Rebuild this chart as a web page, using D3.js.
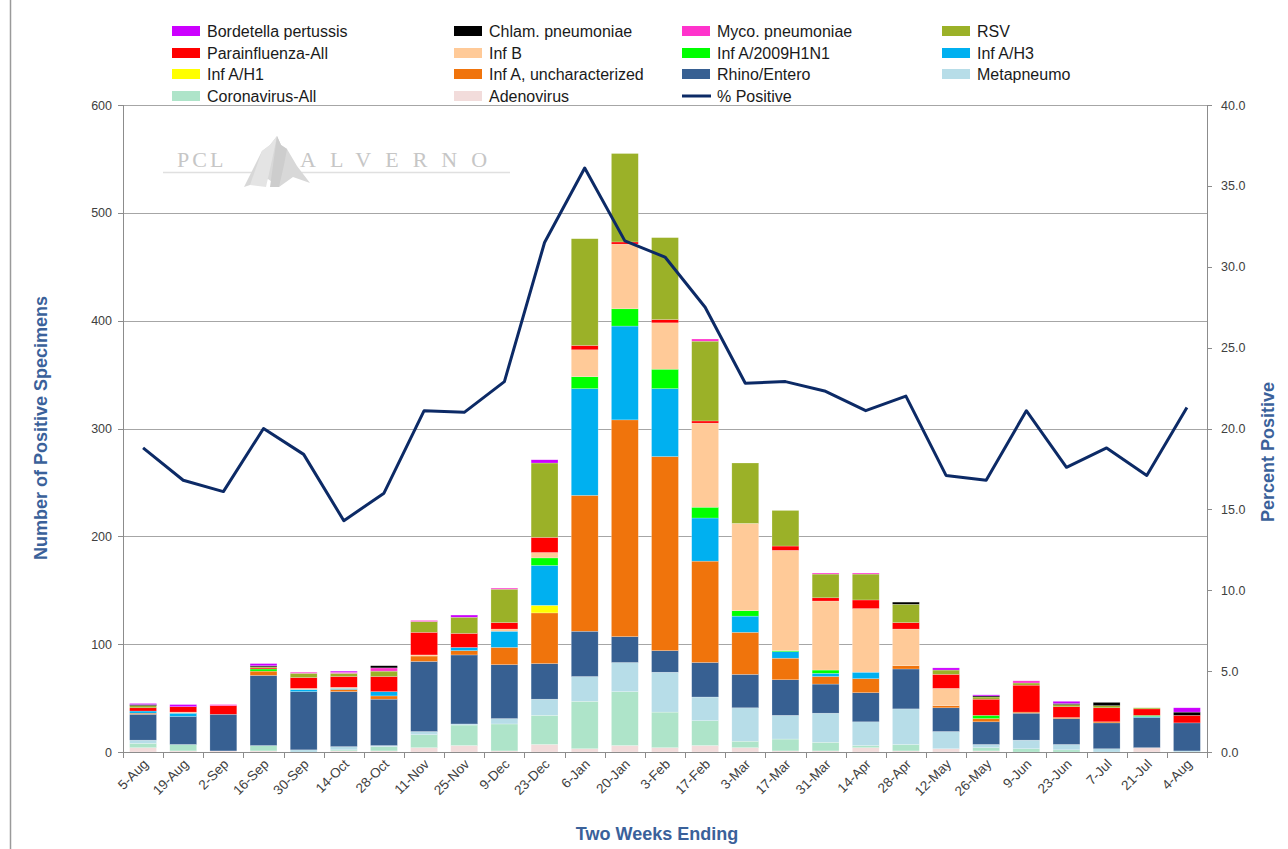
<!DOCTYPE html>
<html><head><meta charset="utf-8">
<script src="https://cdn.jsdelivr.net/npm/d3@7"></script>
<style>body{margin:0;background:#fff}</style>
</head><body><svg id="c" width="1288" height="849"></svg>
<script>
const categories = ["5-Aug","19-Aug","2-Sep","16-Sep","30-Sep","14-Oct","28-Oct","11-Nov","25-Nov","9-Dec","23-Dec","6-Jan","20-Jan","3-Feb","17-Feb","3-Mar","17-Mar","31-Mar","14-Apr","28-Apr","12-May","26-May","9-Jun","23-Jun","7-Jul","21-Jul","4-Aug"];
const adenovirus   = [4,1,1,1,0,1,1,4,6,1,7,3,6,4,6,4,1,1,4,1,3,1,0,0,0,4,0];
const coronavirus  = [4,6,0,5,0,1,4,12,19,25,27,44,50,33,23,6,11,8,2,6,0,3,3,2,0,0,0];
const metapneumo   = [3,0,0,0,2,3,1,3,1,5,15,23,27,37,22,31,22,27,22,33,16,3,8,5,3,0,1];
const rhinoEntero  = [24,26,34,65,54,51,43,65,64,50,33,42,24,20,32,31,33,27,27,37,22,21,25,24,24,28,26];
const infAUnchar   = [1,0,0,4,0,2,3,5,4,16,47,126,201,180,94,39,20,7,13,3,2,3,1,1,1,0,0];
const infAH1       = [0,0,0,0,0,0,0,0,0,0,7,0,0,0,0,0,0,0,0,0,0,0,0,0,0,0,0];
const infAH3       = [2,3,0,0,2,1,4,0,3,15,37,99,87,63,40,15,6,3,6,0,0,0,0,0,0,1,0];
const infA2009     = [0,0,0,2,0,0,0,0,0,0,7,11,16,18,10,5,1,3,0,0,0,3,0,0,0,1,0];
const infB         = [0,1,0,0,1,1,0,1,0,2,5,25,60,43,78,81,93,64,59,34,16,0,0,0,0,0,0];
const parainfluenza= [3,5,8,1,10,10,14,21,13,6,14,4,2,3,2,0,4,3,8,6,13,15,25,10,13,6,7];
const rsv          = [2,0,0,1,4,3,5,10,15,31,69,99,82,76,74,56,33,22,24,17,4,2,2,2,2,1,0];
const mycoPneum    = [0,0,1,0,1,1,3,1,0,1,0,0,0,0,2,0,0,1,1,0,0,0,2,0,0,0,0];
const chlamPneum   = [1,0,0,1,0,0,2,0,0,0,0,0,0,0,0,0,0,0,0,2,0,1,0,1,3,0,3];
const bordetella   = [1,2,0,2,0,1,0,0,2,0,3,0,0,0,0,0,0,0,0,0,2,1,0,2,0,0,4];
const percentPositive = [18.8,16.8,16.1,20.0,18.4,14.3,16.0,21.1,21.0,22.9,31.5,36.1,31.6,30.6,27.5,22.8,22.9,22.3,21.1,22.0,17.1,16.8,21.1,17.6,18.8,17.1,21.3];
const leftTicks  = [0,100,200,300,400,500,600];
const rightTicks = [0,5,10,15,20,25,30,35,40];

// stacking order bottom -> top
const series = [
  {name:"Adenovirus", values:adenovirus, color:"#F2DCDB"},
  {name:"Coronavirus-All", values:coronavirus, color:"#AEE4C9"},
  {name:"Metapneumo", values:metapneumo, color:"#B7DDE8"},
  {name:"Rhino/Entero", values:rhinoEntero, color:"#376092"},
  {name:"Inf A, uncharacterized", values:infAUnchar, color:"#F0740C"},
  {name:"Inf A/H1", values:infAH1, color:"#FFFF00"},
  {name:"Inf A/H3", values:infAH3, color:"#00B0F0"},
  {name:"Inf A/2009H1N1", values:infA2009, color:"#00FF00"},
  {name:"Inf B", values:infB, color:"#FFCA98"},
  {name:"Parainfluenza-All", values:parainfluenza, color:"#FF0000"},
  {name:"RSV", values:rsv, color:"#9BB128"},
  {name:"Myco. pneumoniae", values:mycoPneum, color:"#FF33CC"},
  {name:"Chlam. pneumoniae", values:chlamPneum, color:"#000000"},
  {name:"Bordetella pertussis", values:bordetella, color:"#CC00FF"}
];
const lineColor = "#0C2A66";
const legendOrder = ["Bordetella pertussis","Chlam. pneumoniae","Myco. pneumoniae","RSV",
  "Parainfluenza-All","Inf B","Inf A/2009H1N1","Inf A/H3",
  "Inf A/H1","Inf A, uncharacterized","Rhino/Entero","Metapneumo",
  "Coronavirus-All","Adenovirus","% Positive"];

const svg = d3.select("#c");
const L=123, R=1207, T=105, B=752;
const x = d3.scaleBand().domain(categories).range([L,R]).paddingInner(0.33).paddingOuter(0.165);
const yL = d3.scaleLinear().domain([0,600]).range([B,T]);
const yR = d3.scaleLinear().domain([0,40]).range([B,T]);
const FONT = "'Liberation Sans', Arial, sans-serif";
const NARROW = "'Liberation Sans Narrow','Arial Narrow','Liberation Sans',sans-serif";
const axisGray = "#8C8C8C";

// outer border
svg.append("line").attr("x1",10.5).attr("x2",10.5).attr("y1",0).attr("y2",849).attr("stroke","#9A9A9A").attr("stroke-width",1.5);

// gridlines
svg.append("g").selectAll("line").data(leftTicks.filter(d=>d>0)).join("line")
  .attr("x1",L).attr("x2",R).attr("y1",d=>Math.round(yL(d))+0.5).attr("y2",d=>Math.round(yL(d))+0.5)
  .attr("stroke","#A6A6A6").attr("stroke-width",1);

// watermark logo
const logo = svg.append("g").attr("fill","#C6C6C6");
logo.append("line").attr("x1",163).attr("x2",510).attr("y1",172.5).attr("y2",172.5).attr("stroke","#E0E0E0").attr("stroke-width",1.5);
logo.append("text").attr("x",177).attr("y",167).attr("font-family","'Liberation Serif',serif").attr("font-size",22).attr("letter-spacing",3).text("PCL");
logo.append("text").attr("x",300).attr("y",167).attr("font-family","'Liberation Serif',serif").attr("font-size",22).attr("letter-spacing",14).text("ALVERNO");
logo.append("path").attr("d","M244,187 L262,151 L270,145 L277,136 L281,145 L287,149 L297,166 L310,183 L293,177 L279,187 L268,179 Z").attr("fill","#D8D8D8");
logo.append("path").attr("d","M262,151 L270,145 L277,136 L272,160 L266,187 L250,185 Z").attr("fill","#E4E4E4");
logo.append("path").attr("d","M277,136 L281,145 L287,149 L284,165 L279,187 L270,187 Z").attr("fill","#CDCDCD");

// stacked bars
const stack = d3.stack().keys(d3.range(series.length)).value((d,k)=>series[k].values[d]);
const stacked = stack(d3.range(categories.length));
const barG = svg.append("g");
stacked.forEach((layer,k)=>{
  barG.append("g").attr("fill",series[k].color).selectAll("rect")
    .data(layer.map((d,i)=>({i,y0:d[0],y1:d[1]})).filter(d=>d.y1>d.y0)).join("rect")
    .attr("x",d=>x(categories[d.i])).attr("width",x.bandwidth())
    .attr("y",d=>yL(d.y1)).attr("height",d=>yL(d.y0)-yL(d.y1))
    .attr("stroke","#ffffff").attr("stroke-width",0.5).attr("stroke-opacity",0.45);
});

// axes lines
svg.append("line").attr("x1",L).attr("x2",R).attr("y1",B+0.5).attr("y2",B+0.5).attr("stroke",axisGray);
svg.append("line").attr("x1",L+0.5).attr("x2",L+0.5).attr("y1",T).attr("y2",B+6).attr("stroke",axisGray);
svg.append("line").attr("x1",R+0.5).attr("x2",R+0.5).attr("y1",T).attr("y2",B+6).attr("stroke",axisGray);
// x boundary ticks
svg.append("g").selectAll("line").data(d3.range(categories.length+1)).join("line")
  .attr("x1",i=>Math.round(L+i*x.step())+0.5).attr("x2",i=>Math.round(L+i*x.step())+0.5)
  .attr("y1",B).attr("y2",B+6).attr("stroke",axisGray);
// left ticks
svg.append("g").selectAll("line").data(leftTicks).join("line")
  .attr("x1",L-5).attr("x2",L).attr("y1",d=>Math.round(yL(d))+0.5).attr("y2",d=>Math.round(yL(d))+0.5).attr("stroke",axisGray);
svg.append("g").selectAll("text").data(leftTicks).join("text")
  .attr("x",L-11).attr("y",d=>yL(d)+4.5).attr("text-anchor","end")
  .attr("font-family",FONT).attr("font-size",12.5).attr("fill","#404040").text(d=>d);
// right ticks
svg.append("g").selectAll("line").data(rightTicks).join("line")
  .attr("x1",R).attr("x2",R+5).attr("y1",d=>Math.round(yR(d))+0.5).attr("y2",d=>Math.round(yR(d))+0.5).attr("stroke",axisGray);
svg.append("g").selectAll("text").data(rightTicks).join("text")
  .attr("x",R+14).attr("y",d=>yR(d)+4.5).attr("text-anchor","start")
  .attr("font-family",FONT).attr("font-size",12.5).attr("fill","#404040").text(d=>d.toFixed(1));
// x labels
svg.append("g").selectAll("text").data(categories).join("text")
  .attr("transform",d=>`translate(${x(d)+x.bandwidth()/2+6},${B+13}) rotate(-45)`)
  .attr("text-anchor","end").attr("font-family",FONT).attr("font-size",13.5).attr("fill","#404040").text(d=>d);

// line
const line = d3.line().x((d,i)=>x(categories[i])+x.bandwidth()/2).y(d=>yR(d));
svg.append("path").datum(percentPositive).attr("d",line).attr("fill","none")
  .attr("stroke",lineColor).attr("stroke-width",3).attr("stroke-linejoin","round");

// axis titles
const titleColor = "#3A619A";
svg.append("text").attr("transform","translate(47,428) rotate(-90)").attr("text-anchor","middle")
  .attr("font-family",NARROW).attr("font-weight","bold").attr("font-size",18).attr("fill",titleColor).text("Number of Positive Specimens");
svg.append("text").attr("transform","translate(1274,452) rotate(-90)").attr("text-anchor","middle")
  .attr("font-family",NARROW).attr("font-weight","bold").attr("font-size",18).attr("fill",titleColor).text("Percent Positive");
svg.append("text").attr("x",657).attr("y",840).attr("text-anchor","middle")
  .attr("font-family",NARROW).attr("font-weight","bold").attr("font-size",18).attr("fill",titleColor).text("Two Weeks Ending");

// legend
const colX = [172,454,682,942];
const rowY = [31,53,74,96];
const lg = svg.append("g");
legendOrder.forEach((name,i)=>{
  const cx = colX[i%4], cy = rowY[Math.floor(i/4)];
  if(name==="% Positive"){
    lg.append("line").attr("x1",cx).attr("x2",cx+29).attr("y1",cy).attr("y2",cy).attr("stroke",lineColor).attr("stroke-width",3);
  } else {
    const s = series.find(s=>s.name===name);
    lg.append("rect").attr("x",cx).attr("y",cy-5).attr("width",28).attr("height",10).attr("fill",s.color);
  }
  lg.append("text").attr("x",cx+35).attr("y",cy+5.5).attr("font-family",FONT).attr("font-size",16).attr("fill","#1a1a1a").text(name);
});
</script></body></html>
